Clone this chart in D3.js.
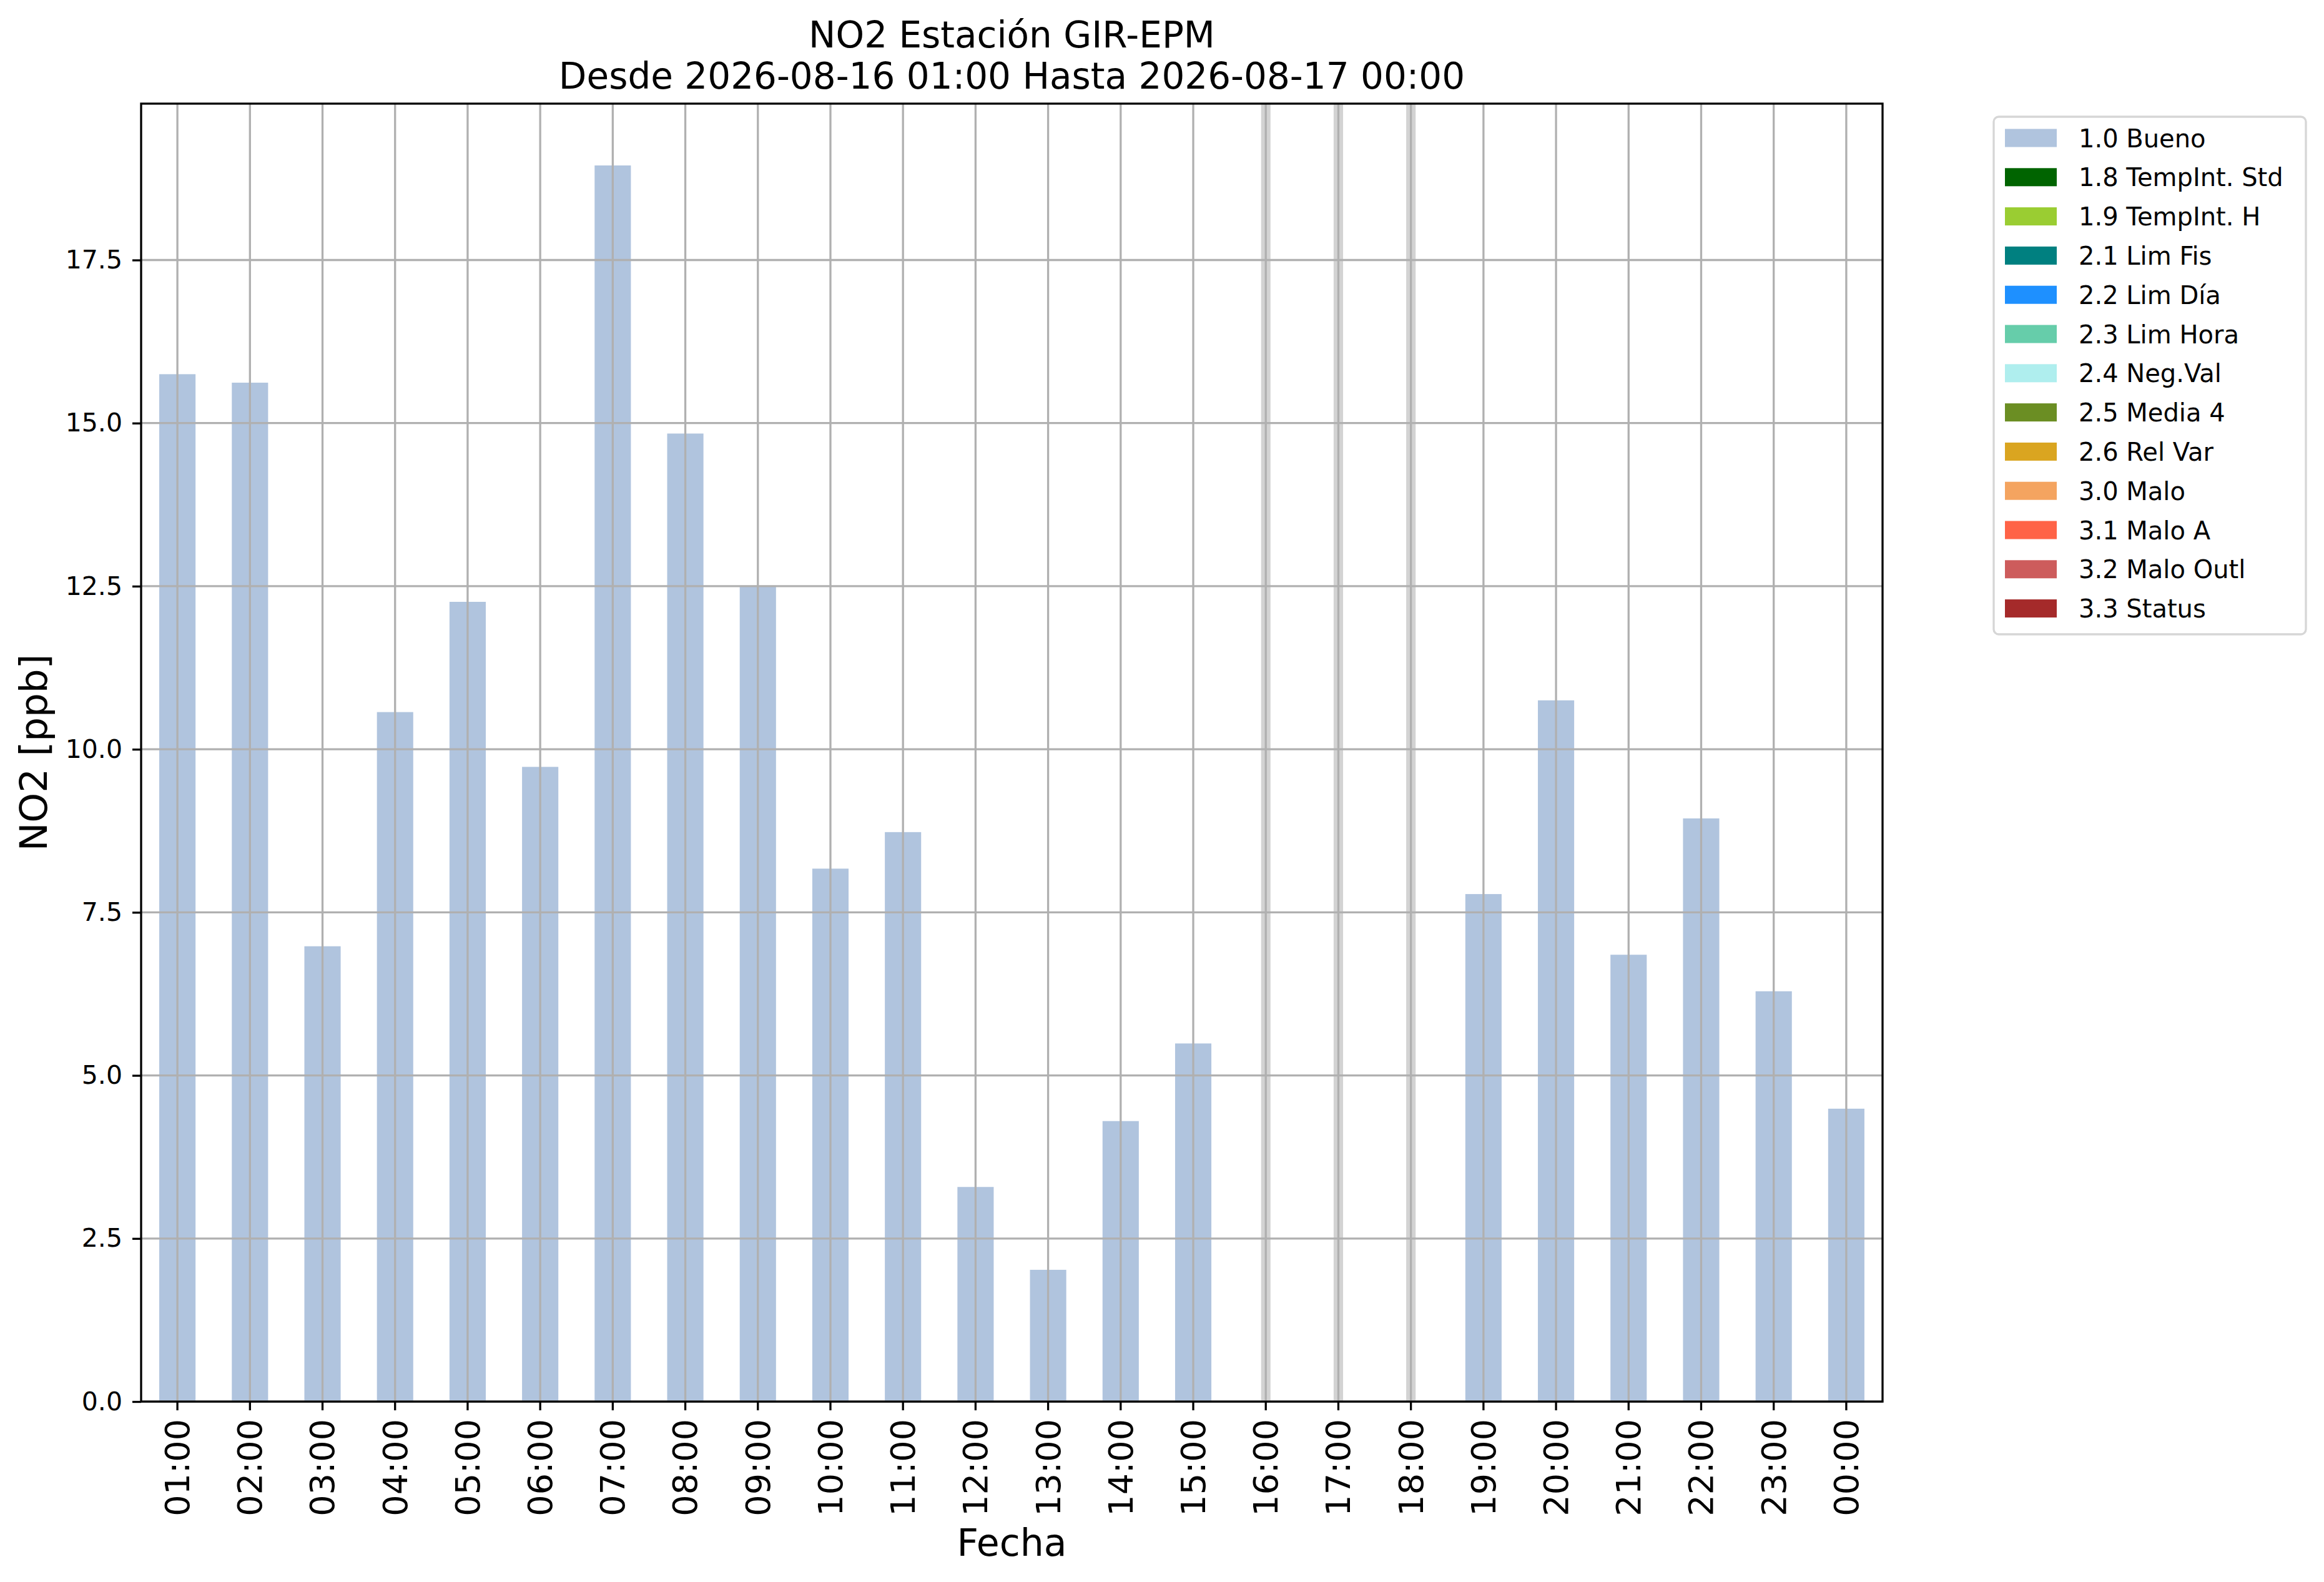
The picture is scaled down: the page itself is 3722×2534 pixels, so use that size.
<!DOCTYPE html>
<html>
<head>
<meta charset="utf-8">
<script src="https://cdn.jsdelivr.net/npm/d3@7"></script>
<style>
  body { margin: 0; background: #fff; }
  text { font-family: "DejaVu Sans", sans-serif; fill: #000; }
</style>
</head>
<body>
<div id="chart"></div>
<script>
// Data
const hours = ['01:00', '02:00', '03:00', '04:00', '05:00', '06:00', '07:00', '08:00',
    '09:00', '10:00', '11:00', '12:00', '13:00', '14:00', '15:00', '16:00',
    '17:00', '18:00', '19:00', '20:00', '21:00', '22:00', '23:00', '00:00'];
const no2 = [15.75, 15.62, 6.98, 10.57, 12.26, 9.73, 18.95, 14.84,
    12.51, 8.17, 8.73, 3.29, 2.02, 4.30, 5.49, null,
    null, null, 7.78, 10.75, 6.85, 8.94, 6.29, 4.49];
const y_ticks = [0, 2.5, 5, 7.5, 10, 12.5, 15, 17.5];
const flag_labels = ['1.0 Bueno', '1.8 TempInt. Std', '1.9 TempInt. H', '2.1 Lim Fis',
    '2.2 Lim Día', '2.3 Lim Hora', '2.4 Neg.Val', '2.5 Media 4', '2.6 Rel Var',
    '3.0 Malo', '3.1 Malo A', '3.2 Malo Outl', '3.3 Status'];
const flag_colors = ['#b0c4de', '#006400', '#9acd32', '#008080', '#1e90ff', '#66cdaa',
    '#afeeee', '#6b8e23', '#daa520', '#f4a460', '#ff6347', '#cd5c5c', '#a52a2a'];

const chart_width = 3722;
const chart_height = 2534;
const plot = { left: 226, top: 166, right: 3015, bottom: 2245 };

const rows = hours.map((h, i) => ({ hour: h, value: no2[i] }));

// Scales
const x_scale = d3.scaleBand()
    .domain(hours)
    .range([plot.left, plot.right])
    .paddingInner(0.5)
    .paddingOuter(0.25);

const y_scale = d3.scaleLinear()
    .domain([0, d3.max(no2) * 1.05])
    .range([plot.bottom, plot.top]);

const centre = h => x_scale(h) + x_scale.bandwidth() / 2;

// SVG
const svg = d3.select('#chart')
    .append('svg')
    .attr('width', chart_width)
    .attr('height', chart_height);

svg.append('rect')
    .attr('width', chart_width)
    .attr('height', chart_height)
    .attr('fill', '#fff');

// Missing hours (thin grey bands)
svg.append('g')
    .selectAll('rect')
    .data(rows.filter(d => d.value === null))
    .enter()
    .append('rect')
    .attr('x', d => centre(d.hour) - x_scale.step() * 0.065)
    .attr('y', plot.top)
    .attr('width', x_scale.step() * 0.13)
    .attr('height', plot.bottom - plot.top)
    .attr('fill', '#d3d3d3');

// Bars
svg.append('g')
    .selectAll('rect')
    .data(rows.filter(d => d.value !== null))
    .enter()
    .append('rect')
    .attr('x', d => x_scale(d.hour))
    .attr('y', d => y_scale(d.value))
    .attr('width', x_scale.bandwidth())
    .attr('height', d => y_scale(0) - y_scale(d.value))
    .attr('fill', flag_colors[0]);

// Grid
const grid = svg.append('g')
    .attr('stroke', '#b0b0b0')
    .attr('stroke-width', 3.3);

grid.selectAll('.vgrid')
    .data(hours)
    .enter()
    .append('line')
    .attr('x1', centre)
    .attr('x2', centre)
    .attr('y1', plot.top)
    .attr('y2', plot.bottom);

grid.selectAll('.hgrid')
    .data(y_ticks)
    .enter()
    .append('line')
    .attr('x1', plot.left)
    .attr('x2', plot.right)
    .attr('y1', d => y_scale(d))
    .attr('y2', d => y_scale(d));

// Axes
const x_axis = svg.append('g')
    .attr('transform', `translate(0,${plot.bottom})`)
    .call(d3.axisBottom(x_scale).tickSize(14).tickPadding(14).tickSizeOuter(0));

x_axis.select('.domain').remove();
x_axis.selectAll('line').attr('stroke', '#000').attr('stroke-width', 3.3);
x_axis.selectAll('text')
    .attr('font-size', 54)
    .attr('font-family', '"DejaVu Sans", sans-serif')
    .attr('text-anchor', 'end')
    .attr('dy', '0.35em')
    .attr('transform', 'rotate(-90)')
    .attr('x', -28)
    .attr('y', 0);

const y_axis = svg.append('g')
    .attr('transform', `translate(${plot.left},0)`)
    .call(d3.axisLeft(y_scale).tickValues(y_ticks).tickFormat(d3.format('.1f'))
        .tickSize(14).tickPadding(16).tickSizeOuter(0));

y_axis.select('.domain').remove();
y_axis.selectAll('line').attr('stroke', '#000').attr('stroke-width', 3.3);
y_axis.selectAll('text')
    .attr('font-size', 41)
    .attr('font-family', '"DejaVu Sans", sans-serif');

// Frame
svg.append('rect')
    .attr('x', plot.left)
    .attr('y', plot.top)
    .attr('width', plot.right - plot.left)
    .attr('height', plot.bottom - plot.top)
    .attr('fill', 'none')
    .attr('stroke', '#000')
    .attr('stroke-width', 3.3);

// Titles
const mid = (plot.left + plot.right) / 2;
svg.append('text')
    .attr('x', mid)
    .attr('y', 76)
    .attr('text-anchor', 'middle')
    .attr('font-size', 58)
    .text('NO2 Estación GIR-EPM');
svg.append('text')
    .attr('x', mid)
    .attr('y', 142)
    .attr('text-anchor', 'middle')
    .attr('font-size', 58)
    .text('Desde 2026-08-16 01:00 Hasta 2026-08-17 00:00');

svg.append('text')
    .attr('x', mid)
    .attr('y', 2492)
    .attr('text-anchor', 'middle')
    .attr('font-size', 60)
    .text('Fecha');

svg.append('text')
    .attr('transform', `translate(75,${(plot.top + plot.bottom) / 2}) rotate(-90)`)
    .attr('text-anchor', 'middle')
    .attr('font-size', 61)
    .text('NO2 [ppb]');

// Legend
const legend = svg.append('g')
    .attr('transform', 'translate(3193,187)');

legend.append('rect')
    .attr('width', 500)
    .attr('height', 829)
    .attr('rx', 8)
    .attr('fill', '#fff')
    .attr('stroke', '#d6d6d6')
    .attr('stroke-width', 3.3);

const items = legend.selectAll('.item')
    .data(flag_labels)
    .enter()
    .append('g')
    .attr('transform', (d, i) => `translate(0,${34 + i * 62.8})`);

items.append('rect')
    .attr('x', 18)
    .attr('y', -14.5)
    .attr('width', 83)
    .attr('height', 29)
    .attr('fill', (d, i) => flag_colors[i]);

items.append('text')
    .attr('x', 136)
    .attr('y', 14.5)
    .attr('font-size', 40)
    .text(d => d);
</script>
</body>
</html>
